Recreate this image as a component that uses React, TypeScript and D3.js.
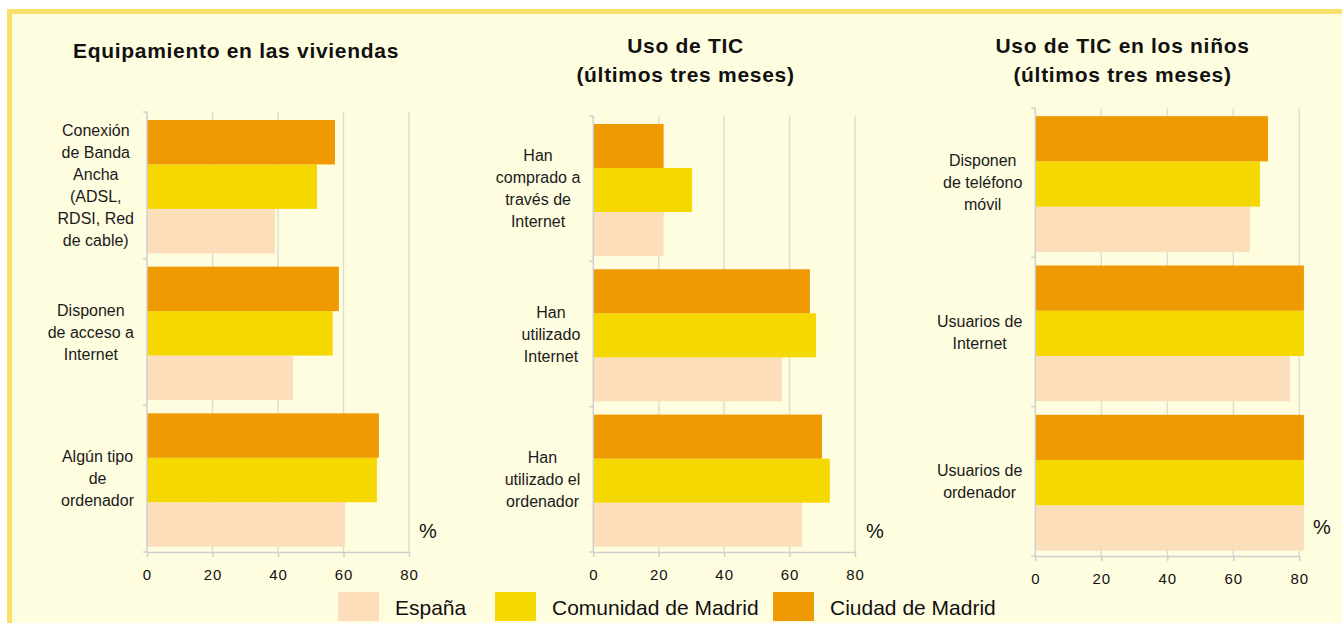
import React, { useEffect, useRef } from 'react';
import * as d3 from 'd3';

const W = 1342;
const H = 623;
const FONT = '"Liberation Sans", Arial, sans-serif';

// series, from the legend
const seriesNames = ['España', 'Comunidad de Madrid', 'Ciudad de Madrid'];
const xTicks = [0, 20, 40, 60, 80];

// panel 1: equipamiento
const equipTitle = ['Equipamiento en las viviendas'];
const equipLabels = [
  'Conexión\nde Banda\nAncha\n(ADSL,\nRDSI, Red\nde cable)',
  'Disponen\nde acceso a\nInternet',
  'Algún tipo\nde\nordenador',
];
const equipEspana = [39.1, 44.6, 60.5];
const equipComunidad = [51.9, 56.7, 70.2];
const equipCiudad = [57.4, 58.6, 70.8];

// panel 2: uso de TIC
const ticTitle = ['Uso de TIC', '(últimos tres meses)'];
const ticLabels = [
  'Han\ncomprado a\ntravés de\nInternet',
  'Han\nutilizado\nInternet',
  'Han\nutilizado el\nordenador',
];
const ticEspana = [21.5, 57.7, 63.8];
const ticComunidad = [30.2, 68.1, 72.3];
const ticCiudad = [21.5, 66.2, 69.9];

// panel 3: niños (some bars run past the end of the axis)
const ninosTitle = ['Uso de TIC en los niños', '(últimos tres meses)'];
const ninosLabels = [
  'Disponen\nde teléfono\nmóvil',
  'Usuarios de\nInternet',
  'Usuarios de\nordenador',
];
const ninosEspana = [65.0, 77.2, 82];
const ninosComunidad = [68.1, 82, 82];
const ninosCiudad = [70.5, 82, 82];

const colors = ['#FCDEBA', '#F5D800', '#EE9A00'];
const bg = '#FFFDE0';
const border = '#F9E06C';

// layout of each panel, in pixels
const panels = [
  { title: equipTitle, labels: equipLabels, values: [equipEspana, equipComunidad, equipCiudad],
    x0: 147, x80: 409, top: 112, bottom: 552, titleX: 236, titleY: 58, pctX: 419, pctY: 538 },
  { title: ticTitle, labels: ticLabels, values: [ticEspana, ticComunidad, ticCiudad],
    x0: 593.3, x80: 855, top: 116, bottom: 552, titleX: 685.5, titleY: 52.5, pctX: 866, pctY: 538 },
  { title: ninosTitle, labels: ninosLabels, values: [ninosEspana, ninosComunidad, ninosCiudad],
    x0: 1035.3, x80: 1299.3, top: 108, bottom: 556, titleX: 1122.5, titleY: 52.5, pctX: 1313, pctY: 534 },
];

const legendX = [338, 495, 773];

export default function App() {
  const ref = useRef<SVGSVGElement>(null);

  useEffect(() => {
    drawChart(ref.current);
  }, []);

  return (
    <svg
      ref={ref}
      width={W}
      height={H}
      style={{ position: 'absolute', left: 0, top: 0 }}
    />
  );
}

function drawChart(node: SVGSVGElement | null) {
  if (!node) return;
  const svg = d3.select(node);
  svg.selectAll('*').remove();
  svg.attr('font-family', FONT);

  svg.append('rect').attr('width', W).attr('height', H).attr('fill', '#fff');
  svg.append('rect')
    .attr('x', 9.5).attr('y', 11.5)
    .attr('width', W + 20).attr('height', H + 20)
    .attr('fill', bg).attr('stroke', border).attr('stroke-width', 5);

  panels.forEach((p) => {
    const g = svg.append('g');
    const x = d3.scaleLinear().domain([0, 80]).range([p.x0, p.x80]);
    const xEdge = 81.4;
    const y = d3.scaleBand<number>().domain(d3.range(p.labels.length)).range([p.top, p.bottom]);
    // top bar is Ciudad, bottom is España
    const ys = d3.scaleBand<number>()
      .domain([2, 1, 0])
      .range([0, y.bandwidth()])
      .paddingOuter(0.15)
      .align(0.6);

    // title
    const title = g.append('text')
      .attr('text-anchor', 'middle')
      .attr('font-size', 21)
      .attr('font-weight', 'bold')
      .attr('letter-spacing', 0.7)
      .attr('fill', '#111');
    p.title.forEach((line, i) => {
      title.append('tspan').attr('x', p.titleX).attr('y', p.titleY + i * 29).text(line);
    });

    // gridlines
    g.selectAll('line.grid')
      .data(xTicks.slice(1))
      .enter()
      .append('line')
      .attr('x1', (d) => x(d)).attr('x2', (d) => x(d))
      .attr('y1', p.top).attr('y2', p.bottom)
      .attr('stroke', '#DEDDD6')
      .attr('stroke-width', 1.5);

    // bars
    p.labels.forEach((_, i) => {
      g.selectAll('rect.c' + i)
        .data([0, 1, 2])
        .enter()
        .append('rect')
        .attr('x', p.x0)
        .attr('y', (s) => (y(i) as number) + (ys(s) as number))
        .attr('width', (s) => x(Math.min(p.values[s][i], xEdge)) - p.x0)
        .attr('height', ys.bandwidth())
        .attr('fill', (s) => colors[s]);
    });

    // y axis with ticks at category boundaries
    g.append('line')
      .attr('x1', p.x0).attr('x2', p.x0)
      .attr('y1', p.top).attr('y2', p.bottom)
      .attr('stroke', '#CFCFCF').attr('stroke-width', 1.5);
    g.selectAll('line.ytick')
      .data(d3.range(p.labels.length + 1))
      .enter()
      .append('line')
      .attr('x1', p.x0 - 4).attr('x2', p.x0)
      .attr('y1', (k) => p.top + k * y.step())
      .attr('y2', (k) => p.top + k * y.step())
      .attr('stroke', '#CFCFCF').attr('stroke-width', 1.5);

    // x axis
    const xAxis = d3.axisBottom(x).tickValues(xTicks).tickSize(5).tickSizeOuter(0).tickPadding(12);
    const ax = g.append('g').attr('transform', 'translate(0,' + p.bottom + ')').call(xAxis);
    ax.select('.domain').attr('stroke', '#CFCFCF').attr('stroke-width', 1.5);
    ax.selectAll('.tick line').attr('stroke', '#CFCFCF').attr('stroke-width', 1.5);
    ax.selectAll('.tick text')
      .attr('font-size', 15)
      .attr('font-family', FONT)
      .attr('letter-spacing', 1)
      .attr('fill', '#111');

    // category labels: lines centred, block right-aligned to the axis
    p.labels.forEach((label, i) => {
      const lines = label.split('\n');
      const cy = (y(i) as number) + y.bandwidth() / 2;
      const t = g.append('text')
        .attr('text-anchor', 'middle')
        .attr('font-size', 16)
        .attr('fill', '#1a1a1a');
      const spans = lines.map((line, j) =>
        t.append('tspan')
          .attr('y', cy + (j - (lines.length - 1) / 2) * 22 + 5.7)
          .text(line)
      );
      const maxW = d3.max(spans, (s) => (s.node() as SVGTSpanElement).getComputedTextLength()) || 0;
      spans.forEach((s) => s.attr('x', p.x0 - 13 - maxW / 2));
    });

    g.append('text')
      .attr('x', p.pctX).attr('y', p.pctY)
      .attr('font-size', 20)
      .attr('fill', '#111')
      .text('%');
  });

  // legend
  const lg = svg.append('g');
  seriesNames.forEach((name, i) => {
    lg.append('rect')
      .attr('x', legendX[i]).attr('y', 592)
      .attr('width', 41).attr('height', 29)
      .attr('fill', colors[i]);
    lg.append('text')
      .attr('x', legendX[i] + 57).attr('y', 615)
      .attr('font-size', 21)
      .attr('fill', '#111')
      .text(name);
  });
}
